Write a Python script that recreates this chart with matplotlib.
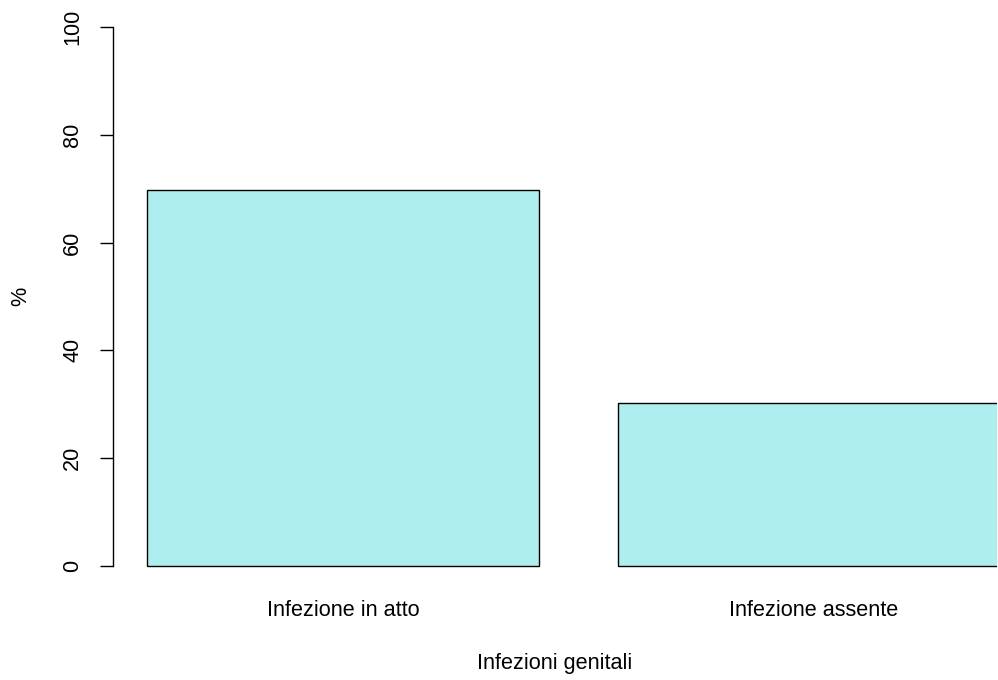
import matplotlib
matplotlib.use("Agg")
import matplotlib.pyplot as plt

categories = ["Infezione in atto", "Infezione assente"]
percentages = [69.8, 30.2]
y_ticks = [0, 20, 40, 60, 80, 100]

plt.rcParams["font.family"] = ["Liberation Sans", "DejaVu Sans"]
FS = 15.6

fig = plt.figure(figsize=(9.98, 6.8), dpi=100)
W, H = 998, 680
left, right, top, bottom = 113, 997, 5.4, 587.6
ax = fig.add_axes([left / W, 1 - bottom / H, (right - left) / W, (bottom - top) / H])

# R-style bar layout: width 1, space 0.2
width = 1.0
space = 0.2
x_left = [space + i * (width + space) for i in range(len(categories))]
centers = [x + width / 2 for x in x_left]

ax.bar(x_left, percentages, width=width, align="edge",
       color="#AFEEEE", edgecolor="black", linewidth=1.0)

ax.set_xlim(0.113, 2.368)
ax.set_ylim(-4, 104)

for side in ("top", "right", "bottom"):
    ax.spines[side].set_visible(False)
ax.spines["left"].set_bounds(0, 100)
ax.spines["left"].set_linewidth(1.0)

ax.set_yticks(y_ticks)
ax.set_yticklabels([str(t) for t in y_ticks], rotation=90, va="center", fontsize=FS)
ax.tick_params(axis="y", length=9.4, width=1.0, pad=12)

ax.set_xticks(centers)
ax.set_xticklabels(categories, fontsize=FS)
ax.tick_params(axis="x", length=0, pad=9)

ax.set_xlabel("Infezioni genitali", fontsize=FS, labelpad=23)
ax.set_ylabel("%", fontsize=FS, labelpad=22)

fig.savefig("out.png", dpi=100)
